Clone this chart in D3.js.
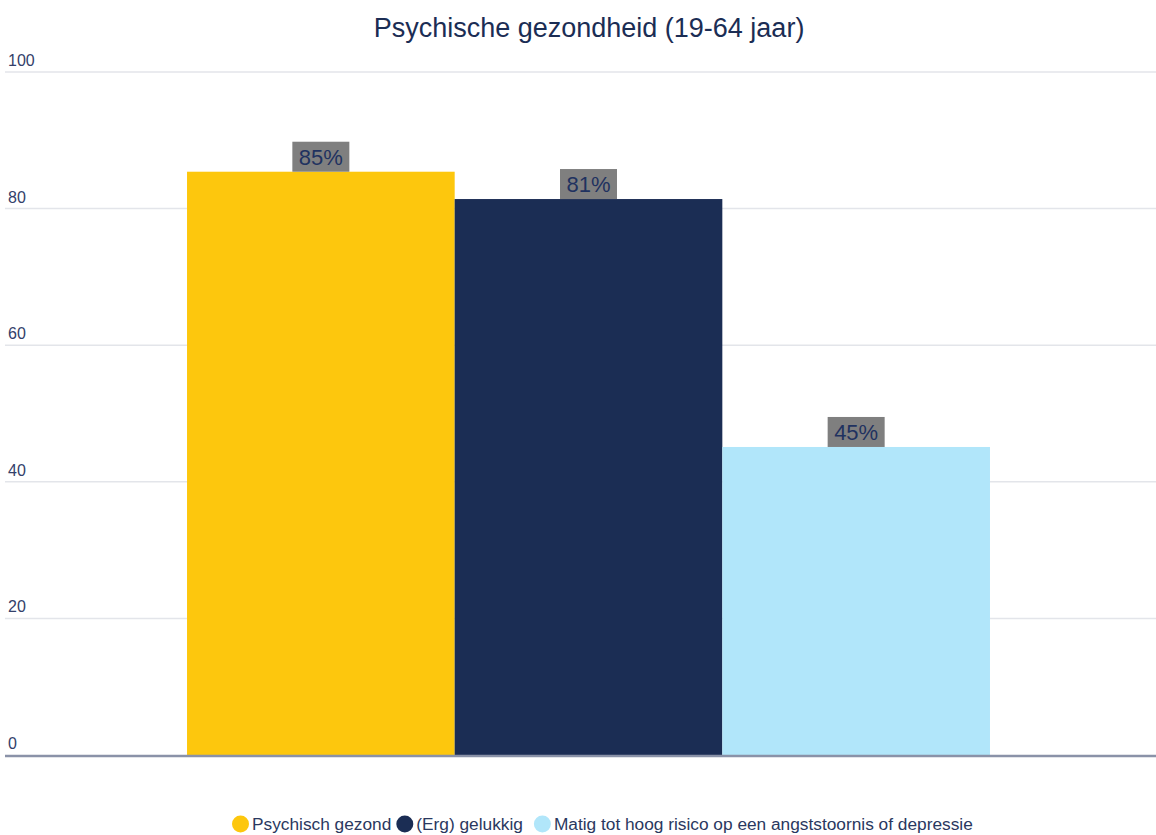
<!DOCTYPE html>
<html>
<head>
<meta charset="utf-8">
<script src="https://cdn.jsdelivr.net/npm/d3@7"></script>
<style>
  body { margin: 0; background: #fff; }
  svg { font-family: "Liberation Sans", Arial, sans-serif; }
</style>
</head>
<body>
<svg id="chart" width="1156" height="835"></svg>
<script>
const title = "Psychische gezondheid (19-64 jaar)";
const series = ["Psychisch gezond", "(Erg) gelukkig", "Matig tot hoog risico op een angststoornis of depressie"];
const values = [85.4, 81.4, 45.1];
const labels = ["85%", "81%", "45%"];
const colors = ["#fdc70d", "#1b2d54", "#b1e6fa"];
const yTicks = [0, 20, 40, 60, 80, 100];

const svg = d3.select("#chart"),
  width = 1156,
  height = 835,
  margin = { top: 72, right: 0, bottom: 80, left: 5 },
  plotRight = 1172; // plot area runs slightly past the window edge

const y = d3.scaleLinear().domain([0, 100]).range([755, margin.top]);

// one category holding the three series
const outer = d3.scaleBand().domain(["all"]).range([margin.left, plotRight]).paddingOuter(0.2267);
const x = d3.scaleBand().domain(series).range([outer("all"), outer("all") + outer.bandwidth()]);

// gridlines
svg.append("g")
  .selectAll("line")
  .data(yTicks.filter((d) => d > 0))
  .enter()
  .append("line")
  .attr("x1", margin.left)
  .attr("x2", width)
  .attr("y1", (d) => y(d))
  .attr("y2", (d) => y(d))
  .attr("stroke", "#e3e5ea")
  .attr("stroke-width", 1.5);

// tick labels sit above their gridline
svg.append("g")
  .selectAll("text")
  .data(yTicks)
  .enter()
  .append("text")
  .attr("x", 8)
  .attr("y", (d) => y(d) - 6)
  .attr("font-size", 16)
  .attr("fill", "#33406a")
  .text((d) => d);

// bars
svg.append("g")
  .selectAll("rect")
  .data(series)
  .enter()
  .append("rect")
  .attr("x", (d) => x(d))
  .attr("width", x.bandwidth())
  .attr("y", (d, i) => y(values[i]))
  .attr("height", (d, i) => y(0) - y(values[i]))
  .attr("fill", (d, i) => colors[i]);

// baseline
svg.append("line")
  .attr("x1", margin.left)
  .attr("x2", width)
  .attr("y1", y(0) + 1)
  .attr("y2", y(0) + 1)
  .attr("stroke", "#8a92a8")
  .attr("stroke-width", 2.5);

// data labels with grey boxes
const lab = svg.append("g")
  .selectAll("g")
  .data(series)
  .enter()
  .append("g")
  .attr("transform", (d, i) => `translate(${x(d) + x.bandwidth() / 2},${y(values[i])})`);

lab.append("rect")
  .attr("x", -28.5)
  .attr("y", -30)
  .attr("width", 57)
  .attr("height", 30)
  .attr("fill", "#7f7f7f");

lab.append("text")
  .attr("text-anchor", "middle")
  .attr("y", -7)
  .attr("font-size", 22)
  .attr("fill", "#1f3260")
  .text((d, i) => labels[i]);

// title
svg.append("text")
  .attr("x", 589)
  .attr("y", 37)
  .attr("text-anchor", "middle")
  .attr("font-size", 27)
  .attr("fill", "#1b2d54")
  .text(title);

// legend
const legend = svg.append("g").attr("transform", "translate(0,824)");
let lx = 232;
series.forEach((s, i) => {
  const item = legend.append("g");
  item.append("circle")
    .attr("cx", lx + 8.5)
    .attr("cy", 0)
    .attr("r", 8.5)
    .attr("fill", colors[i]);
  const t = item.append("text")
    .attr("x", lx + 20)
    .attr("y", 6)
    .attr("font-size", 17.3)
    .attr("fill", "#2a3860")
    .text(s);
  lx += 20 + t.node().getComputedTextLength() + (i === 0 ? 5 : 11);
});
</script>
</body>
</html>
